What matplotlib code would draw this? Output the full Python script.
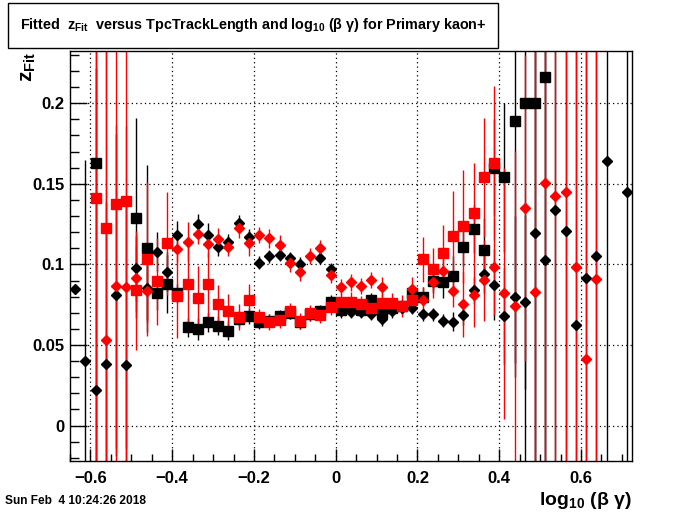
import numpy as np
import matplotlib
matplotlib.use("Agg")
from matplotlib import pyplot as plt
from matplotlib.ticker import MultipleLocator, FuncFormatter

plt.rcParams['font.family'] = ['Liberation Sans', 'DejaVu Sans']
plt.rcParams['font.weight'] = 'bold'
plt.rcParams['mathtext.fontset'] = 'custom'
plt.rcParams['mathtext.rm'] = 'Liberation Sans:bold'
plt.rcParams['mathtext.bf'] = 'Liberation Sans:bold'
plt.rcParams['mathtext.it'] = 'Liberation Sans:bold'

nan = np.nan

# histogram binning of log10(beta gamma)
x_lo, x_hi, bin_w = -0.65, 0.725, 0.025
edges = np.arange(x_lo, x_hi + bin_w / 2, bin_w)
centers = (edges[:-1] + edges[1:]) / 2

# black squares
black_sq = [nan, nan, 0.163, nan, nan, nan, 0.129, 0.110, 0.082, 0.088,
            0.082, 0.061, 0.060, 0.064, 0.062, 0.059, 0.066, 0.068, 0.064, 0.065,
            0.068, 0.070, 0.064, 0.069, 0.071, 0.077, 0.072, 0.073, 0.072, 0.078,
            0.070, 0.073, 0.074, 0.082, 0.080, 0.090, 0.089, 0.093, 0.111, 0.122,
            0.109, 0.160, 0.154, 0.189, 0.200, 0.200, 0.216, nan, nan, nan,
            nan, nan, nan, nan, nan]
black_sq_err = [0, 0, 0.25, 0, 0, 0, 0.062, 0.052, 0.010, 0.018,
                0.006, 0.006, 0.007, 0.006, 0.006, 0.006, 0.005, 0.005, 0.004, 0.004,
                0.004, 0.004, 0.004, 0.004, 0.004, 0.004, 0.004, 0.004, 0.004, 0.004,
                0.004, 0.004, 0.004, 0.004, 0.006, 0.008, 0.010, 0.012, 0.012, 0.015,
                0.020, 0.030, 0.046, 0.15, 0.25, 0.25, 0.3, 0, 0, 0,
                0, 0, 0, 0, 0]

# black diamonds
black_dia = [0.085, 0.040, 0.022, 0.0385, 0.081, 0.0375, 0.0975, 0.0855, 0.108, 0.0955,
             0.118, nan, 0.125, 0.118, 0.111, 0.114, 0.1255, 0.117, 0.101, 0.105,
             0.106, 0.104, 0.1005, nan, 0.104, 0.097, 0.071, 0.0705, 0.0705, 0.0695,
             0.066, 0.071, 0.073, 0.073, 0.069, 0.069, 0.065, 0.0645, 0.0685, 0.084,
             0.094, 0.0875, 0.068, 0.080, 0.0767, 0.1195, 0.1028, 0.1335, 0.121, 0.0623,
             0.0918, 0.1055, 0.164, nan, 0.1447]
black_dia_err = [0, 0.125, 0.2, 0.1, 0.1, 0.1, 0.02, 0.02, 0.012, 0.012,
                 0.009, 0, 0.006, 0.008, 0.006, 0.005, 0.005, 0.005, 0.004, 0.004,
                 0.004, 0.004, 0.004, 0, 0.004, 0.004, 0.004, 0.004, 0.004, 0.004,
                 0.004, 0.004, 0.004, 0.004, 0.004, 0.004, 0.004, 0.006, 0.006, 0.008,
                 0.012, 0.022, 0.03, 0.05, 0.054, 0.15, 0.3, 0.3, 0.3, 0.3,
                 0.3, 0.3, 0.3, 0, 0.3]

# red squares
red_sq = [nan, nan, 0.141, 0.1224, 0.1373, 0.1393, 0.084, 0.1033, 0.0896, 0.113,
          0.0803, 0.0876, 0.0789, 0.0876, 0.0752, 0.0714, 0.0675, 0.0778, 0.0675, 0.0644,
          0.0655, 0.0712, 0.065, 0.0698, 0.0685, 0.0735, 0.0765, 0.0768, 0.0753, 0.0727,
          0.0762, 0.0762, 0.0741, 0.0778, 0.1033, 0.097, 0.1074, 0.1174, 0.1236, 0.1317,
          0.154, 0.163, nan, nan, nan, nan, nan, nan, nan, nan,
          nan, nan, nan, nan, nan]
red_sq_err = [0, 0, 0.3, 0.3, 0.3, 0.3, 0.037, 0.048, 0.027, 0.032,
              0.026, 0.024, 0.02, 0.02, 0.012, 0.01, 0.008, 0.01, 0.005, 0.005,
              0.005, 0.005, 0.005, 0.005, 0.005, 0.005, 0.005, 0.006, 0.005, 0.005,
              0.006, 0.006, 0.007, 0.008, 0.014, 0.013, 0.017, 0.028, 0.035, 0.031,
              0.037, 0.048, 0, 0, 0, 0, 0, 0, 0, 0,
              0, 0, 0, 0, 0]

# red diamonds
red_dia = [nan, nan, nan, 0.0534, 0.0864, 0.0858, 0.0913, 0.0835, nan, nan,
           0.1093, 0.1142, 0.1187, 0.1125, 0.1155, 0.111, 0.1224, 0.113, 0.1182, 0.1161,
           0.112, 0.1006, 0.095, 0.1052, 0.110, 0.0934, 0.0861, 0.0888, 0.0867, 0.0902,
           0.0861, nan, nan, 0.0845, 0.0778, 0.089, 0.0962, 0.0834, 0.0752, 0.0809,
           0.0902, 0.0987, 0.082, 0.0741, 0.1348, 0.0826, 0.1503, 0.1424, 0.1447, 0.0981,
           0.0411, 0.0908, nan, nan, nan]
red_dia_err = [0, 0, 0, 0.3, 0.1, 0.1, 0.02, 0.02, 0, 0,
               0.008, 0.012, 0.006, 0.008, 0.007, 0.006, 0.006, 0.008, 0.005, 0.006,
               0.006, 0.005, 0.005, 0.005, 0.005, 0.005, 0.005, 0.005, 0.005, 0.005,
               0.006, 0, 0, 0.008, 0.008, 0.01, 0.01, 0.01, 0.02, 0.02,
               0.025, 0.03, 0.078, 0.096, 0.095, 0.3, 0.3, 0.3, 0.3, 0.3,
               0.3, 0.3, 0, 0, 0]

series = [
    (black_sq, black_sq_err, 'black', 's', 6.5),
    (black_dia, black_dia_err, 'black', 'D', 5.2),
    (red_sq, red_sq_err, '#ff0000', 's', 6.5),
    (red_dia, red_dia_err, '#ff0000', 'D', 5.2),
]

fig = plt.figure(figsize=(7.0, 5.14), dpi=100)
ax = fig.add_axes([0.1, 0.103, 0.803, 0.798])

# error bars first, markers on top
for vals, errs, col, mk, ms in series:
    vals = np.array(vals, dtype=float)
    ok = ~np.isnan(vals)
    ax.errorbar(centers[ok], vals[ok], yerr=np.array(errs)[ok], xerr=0.011,
                fmt='none', ecolor=col, elinewidth=1.0, capsize=0, zorder=2)
for vals, errs, col, mk, ms in series:
    vals = np.array(vals, dtype=float)
    ok = ~np.isnan(vals)
    ax.plot(centers[ok], vals[ok], linestyle='none', marker=mk, ms=ms,
            color=col, mec=col, zorder=3)

ax.set_xlim(x_lo, x_hi)
ax.set_ylim(-0.022, 0.2325)

ax.xaxis.set_major_locator(MultipleLocator(0.2))
ax.xaxis.set_minor_locator(MultipleLocator(0.05))
ax.yaxis.set_major_locator(MultipleLocator(0.05))
ax.yaxis.set_minor_locator(MultipleLocator(0.01))
ax.yaxis.set_major_formatter(FuncFormatter(lambda v, p: '%g' % round(v, 3)))
ax.xaxis.set_major_formatter(FuncFormatter(
    lambda v, p: ('%g' % round(v, 3)).replace('-', '\u2212')))

ax.tick_params(axis='both', which='both', direction='in', top=False, right=False,
               labelsize=12, width=1.0)
ax.tick_params(axis='x', which='major', length=8.5, pad=7)
ax.tick_params(axis='x', which='minor', length=4.7)
ax.tick_params(axis='y', which='major', length=12, pad=4)
ax.tick_params(axis='y', which='minor', length=6.5)
for lab in ax.get_xticklabels() + ax.get_yticklabels():
    lab.set_fontweight('bold')

ax.grid(True, which='major', color='black', linestyle=(0, (1, 2.5)), linewidth=0.9)
for sp in ax.spines.values():
    sp.set_linewidth(1.0)

# title box
fig.text(0.0114 + 0.6996 / 2, 0.951,
         r'Fitted  z$_{\mathrm{Fit}}$  versus TpcTrackLength and log$_{\mathrm{10}}$ (β γ) for Primary kaon+',
         ha='center', va='center', fontsize=10.4, fontweight='bold')
fig.patches.append(plt.Rectangle((0.0114, 0.9066), 0.6996, 0.0880, transform=fig.transFigure,
                                 fill=False, edgecolor='black', linewidth=1.0))

fig.text(0.04, 0.9, r'z$_{\mathrm{Fit}}$', rotation=90, ha='center', va='top',
         fontsize=15, fontweight='bold')
fig.text(0.903, 0.017, r'log$_{\mathrm{10}}$ (β γ)', ha='right', va='baseline',
         fontsize=14, fontweight='bold')
fig.text(0.007, 0.02, 'Sun Feb  4 10:24:26 2018', ha='left', va='baseline',
         fontsize=8.6, fontweight='bold')

fig.savefig('out.png', dpi=100)
